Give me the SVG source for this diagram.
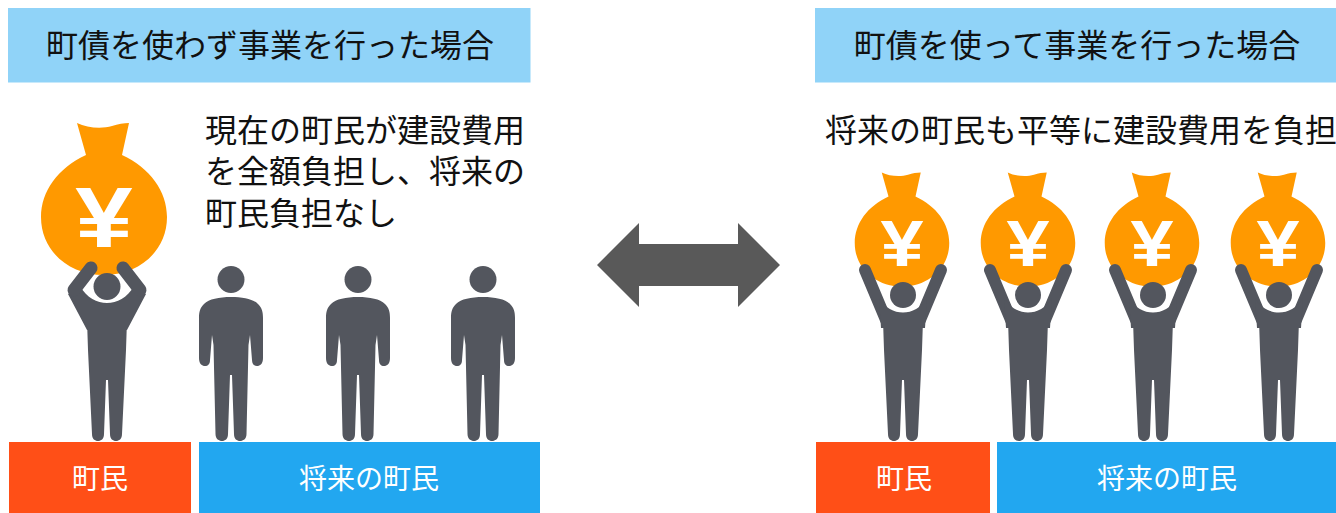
<svg xmlns="http://www.w3.org/2000/svg" width="1336" height="513" viewBox="0 0 1336 513">
<style>
text{font-family:"Noto Sans CJK JP","Noto Sans CJK SC",sans-serif}
.h{font-size:32px;fill:#111;text-anchor:middle}
.b{font-size:32px;fill:#111}
.w{font-size:28px;fill:#fff;text-anchor:middle}
.hd{fill:#90D3F8}.red{fill:#FF4F17}.blue{fill:#22A7F0}
.g{fill:#53565E}
.arm{fill:none;stroke:#53565E;stroke-linecap:round;stroke-linejoin:round}
.y{font-family:"Liberation Sans",sans-serif;font-weight:700;font-size:86px;fill:#fff;text-anchor:middle}
</style>
<defs>
<g id="bag">
<path fill="#FF9900" d="M-27 -94C-17 -89 -2 -88 8 -91C14 -93 20 -94 25 -94L18 -62C46 -49 63 -26 63 0C63 34 35 58 0 58C-35 58 -63 34 -63 0C-63 -26 -46 -49 -18 -62Z"/>
<text class="y" transform="scale(1.2 1)" x="0" y="30">¥</text>
</g>
<path id="legsTorso" class="g" d="M-20 320L20 320L19 350L15 434C15 439 12 441 9 441C6 441 3 439 3 434L1 380L-1 380L-3 434C-3 439 -6 441 -9 441C-12 441 -15 439 -15 434L-19 350Z"/>
<g id="stand">
<circle cx="0" cy="279.500" r="13.500" class="g"/>
<path class="g" d="M0 297C-12 297 -22 299 -27 304C-31 308 -32 312 -32 318L-32 358C-32 364 -29 366 -26 366C-23 366 -21 364 -21 360L-19 335L-17.500 345L-15.500 434C-15.500 439 -12 441 -9 441C-6 441 -3 439 -3 434L-1 375L1 375L3 434C3 439 6 441 9 441C12 441 15.500 439 15.500 434L17.500 345L19 335L21 360C21 364 23 366 26 366C29 366 32 364 32 358L32 318C32 312 31 308 27 304C22 299 12 297 0 297Z"/>
</g>
<g id="over">
<use href="#legsTorso"/>
<path class="g" d="M-20 330L-39 294L-27 286C-20 298 -10 303 0 303C10 303 20 298 27 286L39 294L20 330Z"/>
<path class="arm" stroke-width="13" d="M-16 268L-33 290"/>
<path class="arm" stroke-width="13" d="M16 268L33 290"/>
<circle cx="0" cy="286.500" r="13.500" class="g"/>
</g>
<g id="up">
<use href="#legsTorso"/>
<path class="arm" stroke-width="12" d="M-38 270L-17 320"/>
<path class="arm" stroke-width="12" d="M38 270L17 320"/>
<path class="g" d="M-24 298C-18 308 -9 312.500 0 312.500C9 312.500 18 308 24 298L22 328L-22 328Z"/>
<circle cx="0" cy="295" r="13" class="g"/>
</g>
</defs>

<g id="header-left"><rect class="hd" x="8" y="8" width="522.500" height="74.500"/><text class="h" x="270" y="57">町債を使わず事業を行った場合</text></g>
<g id="header-right"><rect class="hd" x="815" y="8" width="521" height="74.500"/><text class="h" x="1077" y="57">町債を使って事業を行った場合</text></g>

<g id="desc-left"><text class="b" x="205" y="142">現在の町民が建設費用</text><text class="b" x="205" y="183">を全額負担し、将来の</text><text class="b" x="205" y="225">町民負担なし</text></g>
<g id="desc-right"><text class="b" x="825" y="142">将来の町民も平等に建設費用を負担</text></g>

<g id="figure-left-1"><use href="#bag" transform="translate(104 217)"/><use href="#over" x="107"/></g>
<g id="figure-left-2"><use href="#stand" x="231"/></g>
<g id="figure-left-3"><use href="#stand" x="358"/></g>
<g id="figure-left-4"><use href="#stand" x="483"/></g>

<g id="figure-right-1"><use href="#bag" transform="translate(902 243) scale(.75)"/><use href="#up" x="903"/></g>
<g id="figure-right-2"><use href="#bag" transform="translate(1028 243) scale(.75)"/><use href="#up" x="1028"/></g>
<g id="figure-right-3"><use href="#bag" transform="translate(1152 243) scale(.75)"/><use href="#up" x="1153"/></g>
<g id="figure-right-4"><use href="#bag" transform="translate(1278 243) scale(.75)"/><use href="#up" x="1279"/></g>

<g id="label-left-1"><rect class="red" x="9" y="442" width="182" height="71"/><text class="w" x="100" y="489">町民</text></g>
<g id="label-left-2"><rect class="blue" x="199" y="442" width="341" height="71"/><text class="w" x="369" y="489">将来の町民</text></g>
<g id="label-right-1"><rect class="red" x="816" y="442" width="174" height="71"/><text class="w" x="904" y="489">町民</text></g>
<g id="label-right-2"><rect class="blue" x="997" y="442" width="339" height="71"/><text class="w" x="1167" y="489">将来の町民</text></g>

<g id="connectors"><path fill="#595959" d="M597 265L639 223L639 244L738 244L738 223L780 265L738 307L738 286L639 286L639 307Z"/></g>
</svg>
